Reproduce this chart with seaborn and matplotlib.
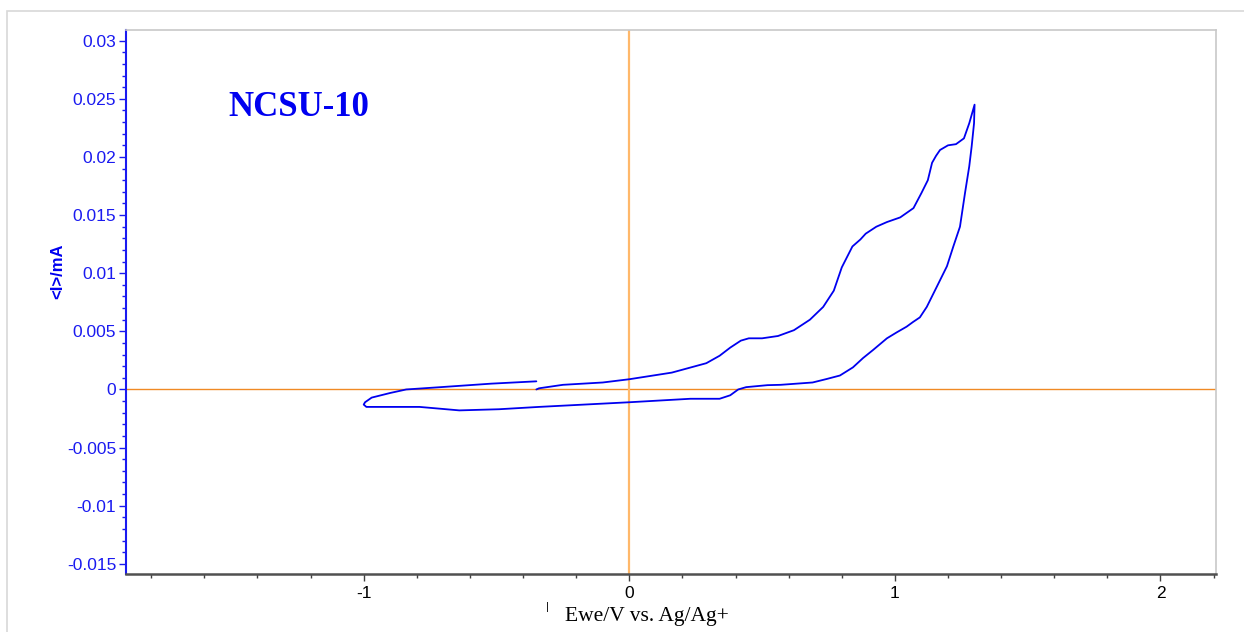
import numpy as np
import pandas as pd
import matplotlib
matplotlib.use("Agg")
import matplotlib.pyplot as plt
from matplotlib.ticker import MultipleLocator, FixedLocator, FuncFormatter
from matplotlib.patches import Rectangle
import seaborn as sns

# ---- data ----
forward_E = [-0.35, -0.34, -0.25, -0.10, 0.00, 0.16, 0.29, 0.34, 0.38, 0.42, 0.45, 0.50,
             0.56, 0.62, 0.68, 0.73, 0.77, 0.80, 0.84, 0.87, 0.89, 0.93, 0.97, 1.02, 1.07,
             1.10, 1.124, 1.14, 1.155, 1.17, 1.20, 1.23, 1.26, 1.28, 1.30]
forward_I = [0.0000, 0.0001, 0.0004, 0.0006, 0.00088, 0.00145, 0.00226, 0.0029, 0.0036, 0.0042,
             0.0044, 0.0044, 0.0046, 0.0051, 0.0060, 0.0071, 0.0085, 0.0105, 0.0123, 0.0129,
             0.0134, 0.0140, 0.0144, 0.0148, 0.0156, 0.0169, 0.0180, 0.0195, 0.0201, 0.0206,
             0.0210, 0.0211, 0.0216, 0.0229, 0.0245]
reverse_E = [1.298, 1.289, 1.28, 1.264, 1.245, 1.22, 1.196, 1.157, 1.12, 1.094, 1.068, 1.044,
             1.006, 0.970, 0.944, 0.918, 0.88, 0.842, 0.793, 0.743, 0.69, 0.57, 0.52, 0.44,
             0.41, 0.38, 0.34, 0.27, 0.23, 0.00, -0.34, -0.49, -0.64, -0.79, -0.99, -1.00]
reverse_I = [0.0229, 0.0209, 0.0192, 0.0169, 0.0140, 0.0123, 0.0106, 0.0088, 0.0071, 0.0062,
             0.0058, 0.0054, 0.0049, 0.0044, 0.0039, 0.0034, 0.0027, 0.0019, 0.0012, 0.0009,
             0.0006, 0.0004, 0.00037, 0.0002, 0.0000, -0.0005, -0.0008, -0.0008, -0.0008,
             -0.0011, -0.0015, -0.0017, -0.0018, -0.0015, -0.0015, -0.0013]
return_E = [-0.995, -0.97, -0.90, -0.84, -0.71, -0.52, -0.35]
return_I = [-0.0011, -0.0007, -0.0003, 0.0000, 0.0002, 0.0005, 0.0007]

x_ticks = [-1, 0, 1, 2]
y_ticks = [-0.015, -0.01, -0.005, 0, 0.005, 0.01, 0.015, 0.02, 0.025, 0.03]

E = forward_E + reverse_E + return_E
I = forward_I + reverse_I + return_I
df = pd.DataFrame({"E": E, "I": I, "order": np.arange(len(E))})

sns.set_style("white")
plt.rcParams["font.family"] = ["Liberation Sans", "DejaVu Sans"]
plt.rcParams["axes.unicode_minus"] = False

BLUE = "#0000F0"
TICKBLUE = "#1a1aF0"

fig = plt.figure(figsize=(12.44, 6.32), dpi=100)
fig.patches.append(Rectangle((7 / 1244, -0.1), 1.2, 1.1 - 11 / 632, transform=fig.transFigure,
                             fill=False, edgecolor="#d8d8d8", linewidth=1.2, zorder=0))
ax = fig.add_axes([126 / 1244, 1 - 573.5 / 632, (1216 - 126) / 1244, (573.5 - 30) / 632])

ax.axhline(0, color="#F08A24", linewidth=1.0, zorder=1)
ax.axvline(0, color="#FFB86A", linewidth=1.6, zorder=1)

sns.lineplot(data=df, x="E", y="I", sort=False, estimator=None, color=BLUE,
             linewidth=1.3, ax=ax, zorder=3)

ax.set_xlim(-1.895, 2.209)
ax.set_ylim(-0.01583, 0.03092)

ax.xaxis.set_major_locator(FixedLocator(x_ticks))
ax.xaxis.set_minor_locator(MultipleLocator(0.2))
ax.yaxis.set_major_locator(FixedLocator(y_ticks))
ax.yaxis.set_minor_locator(MultipleLocator(0.001))
ax.xaxis.set_major_formatter(FuncFormatter(lambda v, p: f"{v:g}"))
ax.yaxis.set_major_formatter(FuncFormatter(lambda v, p: f"{v:g}" if abs(v) > 1e-12 else "0"))

ax.tick_params(axis="x", which="major", direction="out", length=5, width=1, color="#404040",
               labelsize=12.5, labelcolor="black", bottom=True, pad=4)
ax.tick_params(axis="x", which="minor", direction="out", length=3, width=1, color="#404040", bottom=True)
ax.tick_params(axis="y", which="major", direction="out", length=5, width=1, color=TICKBLUE,
               labelsize=12.5, labelcolor=TICKBLUE, left=True, pad=2)
ax.tick_params(axis="y", which="minor", direction="out", length=3, width=1, color=TICKBLUE, left=True)

for side in ["top", "right"]:
    ax.spines[side].set_color("#c8c8c8")
    ax.spines[side].set_linewidth(1.2)
ax.spines["left"].set_color(TICKBLUE)
ax.spines["left"].set_linewidth(1.5)
ax.spines["bottom"].set_color("#505050")
ax.spines["bottom"].set_linewidth(1.8)

ax.set_xlabel("")
ax.set_ylabel("")

fig.text(58 / 1244, 1 - 271 / 632, "<I>/mA", rotation=90, ha="center", va="center",
         color=BLUE, fontsize=12, fontweight="bold", family=["Liberation Sans", "DejaVu Sans"])
fig.text(565 / 1244, 1 - 616 / 632, "Ewe/V vs. Ag/Ag+", ha="left", va="center",
         color="black", fontsize=15.5, family=["Liberation Serif", "DejaVu Serif"])
fig.text(547 / 1244, 1 - 607 / 632, "|", ha="center", va="center", color="black",
         fontsize=8, family=["Liberation Sans", "DejaVu Sans"])
fig.text(228 / 1244, 1 - 107 / 632, "NCSU-10", ha="left", va="center",
         color=BLUE, fontsize=25, fontweight="bold", family=["Liberation Serif", "DejaVu Serif"])

fig.savefig("out.png", dpi=100)
